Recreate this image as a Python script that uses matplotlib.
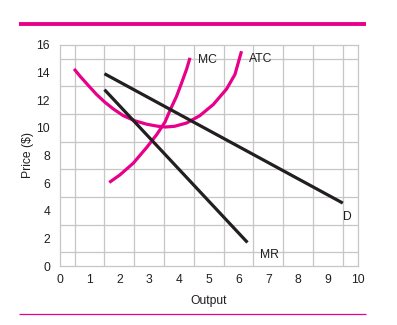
import matplotlib.pyplot as plt
from matplotlib.lines import Line2D
import numpy as np

# curves
atc_x = [0.48, 0.68, 0.98, 1.24, 1.52, 1.8, 2.13, 2.52, 2.92, 3.3, 3.55, 3.85,
         4.26, 4.7, 5.15, 5.6, 5.88, 6.1]
atc_y = [14.25, 13.72, 13.0, 12.39, 11.83, 11.35, 10.87, 10.5, 10.25, 10.1, 10.05, 10.1,
         10.34, 10.87, 11.67, 12.8, 13.85, 15.53]

mc_x = [1.66, 2.02, 2.47, 2.92, 3.25, 3.53, 3.72, 3.92, 4.09, 4.26, 4.37]
mc_y = [6.04, 6.59, 7.44, 8.58, 9.49, 10.4, 11.35, 12.27, 13.24, 14.25, 15.05]

d_x = [1.5, 9.5]
d_y = [13.9, 4.55]

mr_x = [1.5, 6.3]
mr_y = [12.75, 1.7]

PINK = "#e8008a"
INK = "#231f20"
GRID = "#c6c6c6"

plt.rcParams["font.family"] = ["Liberation Sans", "DejaVu Sans"]

fig = plt.figure(figsize=(3.97, 3.25), dpi=100)
ax = fig.add_axes([0.1506, 0.1815, 0.7504, 0.681])

lw = 2.3
ax.plot(atc_x, atc_y, color=PINK, lw=lw, solid_capstyle="butt", solid_joinstyle="round")
ax.plot(mc_x, mc_y, color=PINK, lw=lw, solid_capstyle="butt", solid_joinstyle="round")
ax.plot(d_x, d_y, color=INK, lw=lw, solid_capstyle="butt")
ax.plot(mr_x, mr_y, color=INK, lw=lw, solid_capstyle="butt")

fs = 8.7
ax.text(4.65, 14.9, "MC", fontsize=fs, color=INK, va="center", ha="left")
ax.text(6.35, 14.95, "ATC", fontsize=fs, color=INK, va="center", ha="left")
ax.text(9.5, 3.57, "D", fontsize=fs, color=INK, va="center", ha="left")
ax.text(6.72, 0.8, "MR", fontsize=fs, color=INK, va="center", ha="left")

ax.set_xlim(0, 10)
ax.set_ylim(0, 16)
ax.set_xticks(np.arange(0, 11, 1))
ax.set_yticks(np.arange(0, 17, 2))
ax.set_xticks(np.arange(0, 10.01, 0.5), minor=True)
ax.set_yticks(np.arange(0, 16.01, 1), minor=True)
ax.grid(which="minor", color=GRID, lw=0.9)
ax.set_axisbelow(True)
ax.tick_params(which="both", length=0, labelsize=fs, colors=INK)
ax.tick_params(axis="y", pad=7)
ax.tick_params(axis="x", pad=6)
for s in ax.spines.values():
    s.set_color(GRID)
    s.set_linewidth(0.9)

ax.set_xlabel("Output", fontsize=fs, color=INK, labelpad=6)
ax.set_ylabel("Price ($)", fontsize=fs, color=INK, labelpad=2)

# decorative rules above and below the chart
fig.add_artist(Line2D([19.3 / 397, 366 / 397], [1 - 23.7 / 325] * 2,
                      color=PINK, lw=2.8, solid_capstyle="butt"))
fig.add_artist(Line2D([19.3 / 397, 365.7 / 397], [1 - 314.3 / 325] * 2,
                      color=PINK, lw=0.9, solid_capstyle="butt"))

fig.savefig("out.png", dpi=100)
